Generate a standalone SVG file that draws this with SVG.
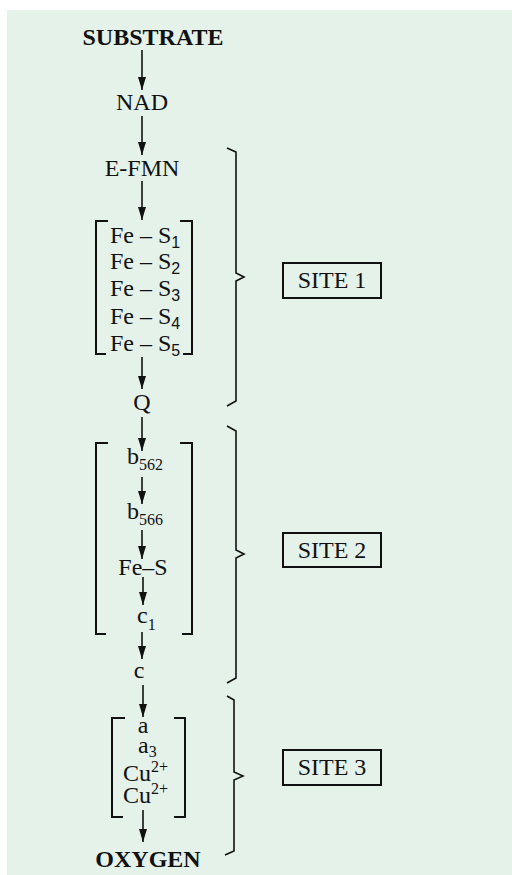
<svg xmlns="http://www.w3.org/2000/svg" width="512" height="875" viewBox="0 0 512 875">
<defs>
<style>
.t{font-family:"Liberation Serif","Times New Roman",serif;font-size:24px;fill:#111;}
.b{font-weight:bold;}
.s{font-family:"Liberation Sans",Arial,sans-serif;font-size:16px;}
.ss{font-size:16px;}
.ln{stroke:#111;stroke-width:1.6;fill:none;}
.br{stroke:#111;stroke-width:2;fill:none;}
</style>
<marker id="ah" viewBox="0 0 13 8" refX="13" refY="4" markerWidth="13" markerHeight="8" markerUnits="userSpaceOnUse" orient="auto">
<path d="M0,0 L13,4 L0,8 z" fill="#111"/>
</marker>
</defs>
<rect x="7" y="10" width="505" height="865" fill="#e4f2ea"/>
<g id="connectors">
<line class="ln" x1="142" y1="50" x2="142" y2="90" marker-end="url(#ah)"/>
<line class="ln" x1="142" y1="116" x2="142" y2="155" marker-end="url(#ah)"/>
<line class="ln" x1="142" y1="181" x2="142" y2="220" marker-end="url(#ah)"/>
<line class="ln" x1="142" y1="357" x2="142" y2="389" marker-end="url(#ah)"/>
<line class="ln" x1="142" y1="417" x2="142" y2="451" marker-end="url(#ah)"/>
<line class="ln" x1="142" y1="477" x2="142" y2="504" marker-end="url(#ah)"/>
<line class="ln" x1="142" y1="530" x2="142" y2="559" marker-end="url(#ah)"/>
<line class="ln" x1="143" y1="577" x2="143" y2="605" marker-end="url(#ah)"/>
<line class="ln" x1="142" y1="632" x2="142" y2="659" marker-end="url(#ah)"/>
<line class="ln" x1="143" y1="685" x2="143" y2="717" marker-end="url(#ah)"/>
<line class="ln" x1="143" y1="810" x2="143" y2="842" marker-end="url(#ah)"/>
</g>
<g id="substrate"><text class="t b" x="153" y="45" text-anchor="middle">SUBSTRATE</text></g>
<g id="nad"><text class="t" x="142" y="110" text-anchor="middle">NAD</text></g>
<g id="efmn"><text class="t" x="142" y="176" text-anchor="middle">E-FMN</text></g>
<g id="fes-group">
<path class="br" d="M108,221 H96 V354 H106"/>
<path class="br" d="M180,221 H192 V354 H183"/>
<text class="t" x="110" y="243">Fe – S<tspan class="s" dy="5">1</tspan></text>
<text class="t" x="110" y="269">Fe – S<tspan class="s" dy="5">2</tspan></text>
<text class="t" x="110" y="296">Fe – S<tspan class="s" dy="5">3</tspan></text>
<text class="t" x="110" y="324">Fe – S<tspan class="s" dy="5">4</tspan></text>
<text class="t" x="110" y="351">Fe – S<tspan class="s" dy="5">5</tspan></text>
</g>
<g id="q"><text class="t" x="142" y="410" text-anchor="middle">Q</text></g>
<g id="cyt-b-group">
<path class="br" d="M108,443 H96 V634 H106"/>
<path class="br" d="M180,443 H192 V634 H182"/>
<text class="t" x="127" y="464">b<tspan class="ss" dy="6">562</tspan></text>
<text class="t" x="127" y="519">b<tspan class="ss" dy="6">566</tspan></text>
<text class="t" x="143" y="575" text-anchor="middle">Fe–S</text>
<text class="t" x="137" y="623">c<tspan class="ss" dy="7">1</tspan></text>
</g>
<g id="c"><text class="t" x="139" y="678" text-anchor="middle">c</text></g>
<g id="cyt-a-group">
<path class="br" d="M125,718 H112 V817 H123"/>
<path class="br" d="M174,718 H185 V817 H174"/>
<text class="t" x="143" y="733" text-anchor="middle">a</text>
<text class="t" x="138" y="753">a<tspan class="ss" dy="4">3</tspan></text>
<text class="t" x="123" y="781">Cu<tspan class="ss" dy="-9">2+</tspan></text>
<text class="t" x="123" y="803">Cu<tspan class="ss" dy="-9">2+</tspan></text>
</g>
<g id="oxygen"><text class="t b" x="148" y="867" text-anchor="middle">OXYGEN</text></g>
<g id="site1">
<path class="ln" d="M227,148 L236,152 L236,273 L244,277 L236,281 L236,401 L227,406"/>
<rect class="br" x="283" y="263" width="98" height="35"/>
<text class="t" x="332" y="288" text-anchor="middle">SITE 1</text>
</g>
<g id="site2">
<path class="ln" d="M227,426 L236,431 L236,550 L244,554 L236,558 L236,678 L227,683"/>
<rect class="br" x="283" y="533" width="98" height="34"/>
<text class="t" x="332" y="558" text-anchor="middle">SITE 2</text>
</g>
<g id="site3">
<path class="ln" d="M227,696 L234,700 L234,772 L243,776 L234,780 L234,851 L225,855"/>
<rect class="br" x="283" y="750" width="98" height="35"/>
<text class="t" x="332" y="775" text-anchor="middle">SITE 3</text>
</g>
</svg>
